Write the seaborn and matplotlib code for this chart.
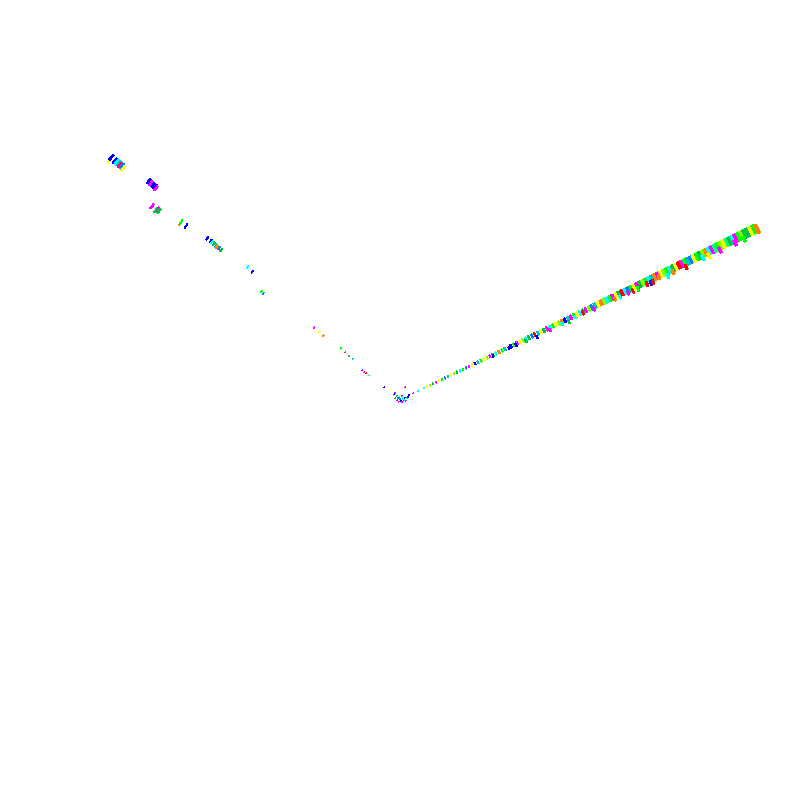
import matplotlib
matplotlib.use("Agg")
import matplotlib.pyplot as plt
import numpy as np
import pandas as pd
import seaborn as sns
from matplotlib.path import Path

# colour codes used by the *_cat lists
palette = {"b": "#0000ff", "l": "#00ff00", "c": "#00ffff", "m": "#ff00ff", "y": "#ffff00",
           "o": "#ff8000", "r": "#ff0000", "g": "#00c040", "s": "#00ff80", "a": "#0080ff",
           "t": "#00c0c0", "h": "#80ff00", "p": "#ff0080"}

right_x = [424, 427, 430, 433, 436, 439, 442, 445, 448, 451, 454, 457, 460, 463, 466, 469,
           472, 475, 478, 481, 484, 487, 490, 493, 496, 499, 502, 505, 508, 511, 514, 517,
           520, 523, 526, 529, 532, 535, 538, 541, 544, 547, 550, 553, 556, 559, 562, 565,
           568, 571, 574, 577, 580, 583, 586, 589, 592, 595, 598, 601, 604, 607, 610, 613,
           616, 619, 622, 625, 628, 631, 634, 637, 640, 643, 646, 649, 652, 655, 658, 661,
           664, 667, 670, 673, 676, 679, 682, 685, 688, 691, 694, 697, 700, 703, 706, 709,
           712, 715, 718, 721, 724, 727, 730, 733, 736, 739, 742, 745, 748, 751, 754, 757]
right_y = [388.1, 386.6, 385.2, 383.7, 382.3, 380.9, 379.4, 378.0, 376.5, 375.1, 373.6, 372.2,
           370.8, 369.3, 367.9, 366.4, 365.0, 363.5, 362.1, 360.7, 359.2, 357.8, 356.3, 354.9,
           353.4, 352.0, 350.6, 349.1, 347.7, 346.2, 344.8, 343.3, 341.9, 340.5, 339.0, 337.6,
           336.1, 334.7, 333.2, 331.8, 330.4, 328.9, 327.5, 326.0, 324.6, 323.1, 321.7, 320.3,
           318.8, 317.4, 315.9, 314.5, 313.0, 311.6, 310.2, 308.7, 307.3, 305.8, 304.4, 302.9,
           301.5, 300.1, 298.6, 297.2, 295.7, 294.3, 292.8, 291.4, 290.0, 288.5, 287.1, 285.6,
           284.2, 282.7, 281.3, 279.9, 278.4, 277.0, 275.5, 274.1, 272.6, 271.2, 269.8, 268.3,
           266.9, 265.4, 264.0, 262.5, 261.1, 259.7, 258.2, 256.8, 255.3, 253.9, 252.4, 251.0,
           249.6, 248.1, 246.7, 245.2, 243.8, 242.3, 240.9, 239.5, 238.0, 236.6, 235.1, 233.7,
           232.2, 230.8, 229.4, 229.0]
right_cat = list("cyhgmylaty" "hgclamybtl" "yhmgcoltyb" "lmyhcgarty" "gmclyhobtm" "lycgmhatyo"
                 "hclmygrcal" "ymghlctomy" "hlcgyrmlta" "ylghocmslh" "ysgcmlhggy" "lo")

# bars hanging below the main band
drop_x = [735, 744, 720, 709, 703, 686, 673, 668, 659, 651, 653, 647, 638, 633, 628,
          620, 615, 594, 583, 575, 569, 562, 550, 537, 526, 516, 509, 493]
drop_y = [243, 239, 250, 256, 258, 267, 272, 276, 277, 283, 282, 284, 289, 291, 293,
          297, 299, 309, 313, 317, 322, 324, 330, 337, 341, 345, 348, 356]
drop_cat = list("mlmycrocobrrlrmcomrcgcmbgbbb")

left_x = [110, 111.3, 115, 116.7, 118.7, 120, 121.7, 123.3,
          148.7, 150.7, 153, 155, 156, 152, 157.7, 155.7, 159, 180, 181, 186,
          207.3, 210.7, 212, 214, 216, 217, 219.3, 221.3, 247.3, 252.3, 261.7, 263.3,
          314, 319.3, 323.3, 340.7, 345.3, 347.3, 349.3, 352.7, 362.3, 364.3, 366.3, 369]
left_y = [159, 157.3, 160.7, 162, 163.3, 164.7, 166, 168,
          181.3, 183.3, 185, 186.7, 188.3, 206.3, 209.3, 210.3, 211, 223.7, 222, 226,
          238.3, 241, 242, 243.7, 245.7, 246.7, 248, 250, 267.3, 271.7, 291.3, 293.3,
          327.7, 331.7, 335.7, 348.3, 352.3, 354, 355.7, 359, 370.3, 372.3, 373.3, 375.3]
left_cat = list("ybbctpay" "bmbbmmmgg" "olb" "bbcgtoag" "cbla" "myol" "mytt" "mmrc")

# the knot where both arms meet
knot_x = [384.3, 405.3, 418.3, 413.3, 409, 395.3, 394, 396.7, 399.3, 401.7, 405, 400, 403.3,
          406.7, 395, 397.3, 401, 404, 398.7, 401.7, 405.7, 408.3, 398, 402.5, 399.5, 403]
knot_y = [387.3, 387.3, 390.7, 393, 395, 392.7, 394.3, 395.7, 396.7, 396, 397.7, 399, 399,
          398.3, 398.3, 400, 400.7, 400.3, 401.7, 402.3, 400.7, 396.7, 398, 397.5, 398.5, 401.5]
knot_cat = list("brcmbmbgcmbacsgmbcmamb" "acam")

hub = (400, 395)


def bar_marker(angle_deg, ratio):
    # thin rectangle rotated across the arm
    a = np.deg2rad(angle_deg)
    rect = np.array([[-1, -ratio], [1, -ratio], [1, ratio], [-1, ratio], [-1, -ratio]])
    rot = np.array([[np.cos(a), -np.sin(a)], [np.sin(a), np.cos(a)]])
    verts = rect @ rot.T
    return Path(verts, closed=True), np.abs(verts).max()


def draw_arm(ax, xs, ys, cats, angle, grow, power=1.0, ratio=0.3):
    df = pd.DataFrame({"x": xs, "y": ys, "cat": cats})
    dist = np.hypot(df.x - hub[0], df.y - hub[1])
    length = 1.2 + grow * (dist / 375) ** power
    marker, extent = bar_marker(angle, ratio)
    sizes = (length * 0.72 * extent) ** 2
    sns.scatterplot(data=df, x="x", y="y", hue="cat", palette=palette, marker=marker,
                    s=sizes, linewidth=0, legend=False, ax=ax)
    ax.collections[-1].set_antialiased(False)


sns.set_theme(style="white")
fig, ax = plt.subplots(figsize=(8, 8), dpi=100)
ax.set_position([0, 0, 1, 1])

draw_arm(ax, right_x, right_y, right_cat, -64, 7.5, ratio=0.36)
draw_arm(ax, drop_x, drop_y, drop_cat, -64, 5, ratio=0.4)
draw_arm(ax, left_x, left_y, left_cat, 51, 5.5, power=1.6, ratio=0.28)
draw_arm(ax, knot_x, knot_y, knot_cat, 51, 0)

ax.set_xlim(0, 800)
ax.set_ylim(800, 0)
ax.axis("off")
fig.savefig("out.png", dpi=100)
